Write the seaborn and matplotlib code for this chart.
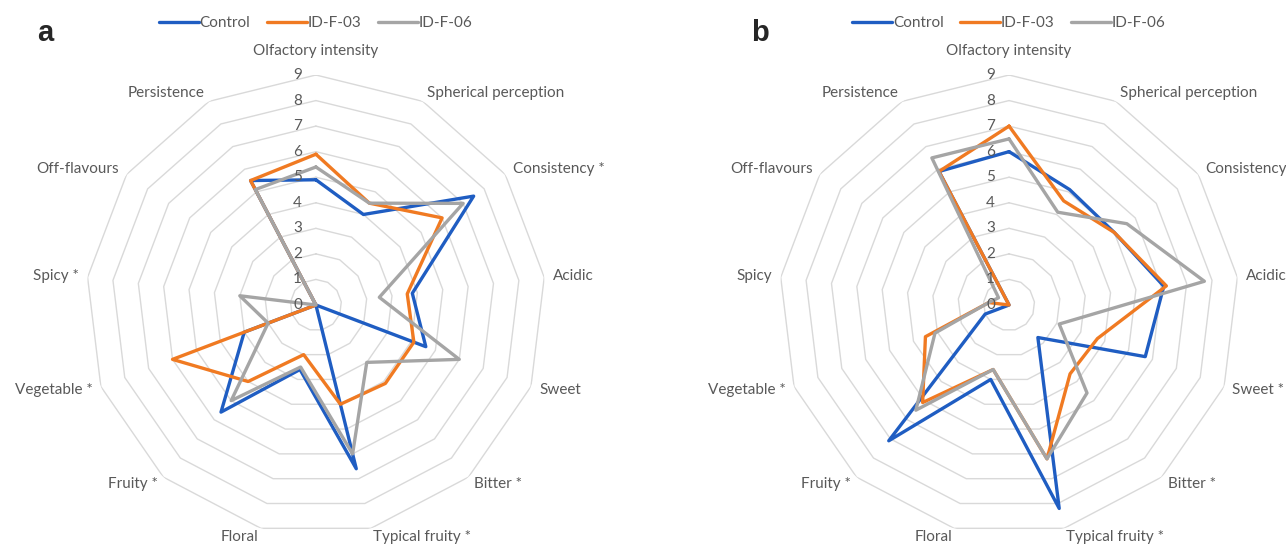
import numpy as np
import pandas as pd
import matplotlib
matplotlib.use('Agg')
import matplotlib.pyplot as plt
import seaborn as sns

# attributes, clockwise from the top
attrs_a = ['Olfactory intensity', 'Spherical perception', 'Consistency *', 'Acidic', 'Sweet',
           'Bitter *', 'Typical fruity *', 'Floral', 'Fruity *', 'Vegetable *', 'Spicy *',
           'Off-flavours', 'Persistence']
attrs_b = ['Olfactory intensity', 'Spherical perception', 'Consistency', 'Acidic', 'Sweet *',
           'Bitter *', 'Typical fruity *', 'Floral', 'Fruity *', 'Vegetable *', 'Spicy',
           'Off-flavours', 'Persistence']
series = ['Control', 'ID-F-03', 'ID-F-06']

# panel a
control_a = [4.9, 4.0, 7.5, 3.8, 4.6, 0.0, 6.6, 2.6, 5.6, 3.0, 0.0, 0.0, 5.5]
f03_a     = [5.9, 4.5, 6.0, 3.6, 4.1, 4.1, 4.0, 2.0, 4.0, 6.0, 0.0, 0.0, 5.5]
f06_a     = [5.4, 4.5, 7.0, 2.5, 6.0, 3.0, 6.0, 2.5, 5.0, 2.0, 3.0, 0.0, 5.1]

# panel b
control_b = [6.0, 5.1, 5.0, 6.1, 5.7, 1.7, 8.2, 3.0, 7.1, 1.0, 0.0, 0.0, 5.9]
f03_b     = [7.0, 4.6, 5.0, 6.2, 3.7, 3.6, 6.2, 2.6, 5.1, 3.5, 0.8, 0.0, 5.9]
f06_b     = [6.5, 4.1, 5.6, 7.7, 2.1, 4.6, 6.2, 2.6, 5.5, 3.1, 0.8, 0.5, 6.5]

ticks = list(range(0, 10))

colors = {'Control': '#1F5DC2', 'ID-F-03': '#F07A22', 'ID-F-06': '#A5A5A5'}
txt_col = '#595959'
grid_col = '#D9D9D9'
fs = 11

sns.set_style('white')
plt.rcParams['font.family'] = ['Lato', 'DejaVu Sans']


def long_frame(attrs, vals):
    n = len(attrs)
    theta = list(np.linspace(0, 2 * np.pi, n, endpoint=False))
    rows = []
    for name, v in zip(series, vals):
        # close the loop by repeating the first point
        for t, r in zip(theta + [2 * np.pi], list(v) + [v[0]]):
            rows.append({'theta': t, 'score': r, 'sample': name})
    return pd.DataFrame(rows), theta


def radar(ax, attrs, vals):
    df, theta = long_frame(attrs, vals)
    ax.set_theta_zero_location('N')
    ax.set_theta_direction(-1)

    # polygon grid rings like the Excel radar
    ring_t = theta + [theta[0]]
    for r in ticks[1:]:
        ax.plot(ring_t, [r] * len(ring_t), color=grid_col, lw=1.0, zorder=0)

    sns.lineplot(data=df, x='theta', y='score', hue='sample', hue_order=series,
                 palette=colors, sort=False, estimator=None, lw=2.4, ax=ax)

    ax.set_ylim(0, 9)
    ax.set_xticks([])
    ax.set_yticks([])
    ax.grid(False)
    ax.spines['polar'].set_visible(False)
    ax.set_xlabel('')
    ax.set_ylabel('')

    for t, lab in zip(theta, attrs):
        s = np.sin(t)
        if abs(s) < 0.05:
            ax.text(t, 9.95, lab, ha='center', va='center', fontsize=fs,
                    color=txt_col, clip_on=False)
        else:
            ax.text(t, 9.35, lab, ha='left' if s > 0 else 'right', va='center',
                    fontsize=fs, color=txt_col, clip_on=False)

    for v in ticks:
        ax.annotate(str(v), xy=(0, v), xytext=(-14, 0), textcoords='offset pixels',
                    ha='right', va='center', fontsize=fs, color=txt_col)

    sns.move_legend(ax, 'center', bbox_to_anchor=(0.5, 1.112), ncol=3, frameon=False,
                    title=None, handlelength=2.6, handletextpad=0.05, columnspacing=1.1,
                    fontsize=fs, labelcolor=txt_col)


fig = plt.figure(figsize=(12.86, 5.49), dpi=100)
ax_a = fig.add_axes([0.0668, 0.0255, 0.3577, 0.8379], projection='polar')
ax_b = fig.add_axes([0.6058, 0.0255, 0.3577, 0.8379], projection='polar')

radar(ax_a, attrs_a, [control_a, f03_a, f06_a])
radar(ax_b, attrs_b, [control_b, f03_b, f06_b])

fig.text(0.035, 0.94, 'a', fontsize=21, fontweight='bold', family='Liberation Sans',
         ha='center', va='center')
fig.text(0.591, 0.94, 'b', fontsize=21, fontweight='bold', family='Liberation Sans',
         ha='center', va='center')

fig.savefig('out.png', dpi=100)
